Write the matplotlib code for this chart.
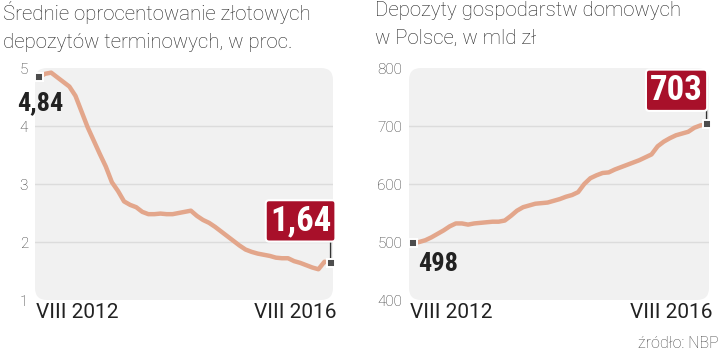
import numpy as np
import matplotlib
matplotlib.use("Agg")
import matplotlib.pyplot as plt
from matplotlib.patches import FancyBboxPatch

# miesiace VIII 2012 .. VIII 2016
months = np.arange(49)
x_labels = ["VIII 2012", "VIII 2016"]

# srednie oprocentowanie depozytow terminowych (%)
rate = [4.84, 4.90, 4.92, 4.84, 4.76, 4.68, 4.52, 4.25, 3.98, 3.75,
        3.52, 3.30, 3.03, 2.88, 2.70, 2.64, 2.60, 2.52, 2.48, 2.48,
        2.49, 2.48, 2.48, 2.50, 2.52, 2.54, 2.45, 2.38, 2.33, 2.26,
        2.18, 2.10, 2.02, 1.94, 1.87, 1.83, 1.80, 1.78, 1.76, 1.73,
        1.72, 1.72, 1.67, 1.64, 1.60, 1.56, 1.53, 1.66, 1.64]

# depozyty gospodarstw domowych (mld zl)
deposits = [498, 500, 503, 508, 514, 520, 527, 532, 532, 530,
            532, 533, 534, 535, 535, 537, 545, 554, 560, 563,
            566, 567, 568, 571, 574, 578, 581, 586, 600, 610,
            615, 619, 620, 625, 629, 633, 637, 641, 646, 651,
            665, 673, 679, 684, 687, 690, 697, 701, 703]

titles = ["Średnie oprocentowanie złotowych\ndepozytów terminowych, w proc.",
          "Depozyty gospodarstw domowych\nw Polsce, w mld zł"]

LINE = "#e3a68b"
RED = "#a8102a"
BG = "#f1f1f1"
GRID = "#dcdcdc"
NUM_FONT = ["Roboto Condensed", "Liberation Sans Narrow", "DejaVu Sans"]
TXT_FONT = ["Roboto", "DejaVu Sans"]

fig = plt.figure(figsize=(7.2, 3.52), dpi=100)

def panel(rect, values, ylim, yticks, grid, first_lbl, last_lbl, last_off, first_off):
    ax = fig.add_axes(rect)
    ax.set_xlim(-0.66, 48.4)
    ax.set_ylim(*ylim)
    ax.patch.set_visible(False)
    for s in ax.spines.values():
        s.set_visible(False)
    w_px = rect[2] * 720
    h_px = rect[3] * 352
    box = FancyBboxPatch((0, 0), 1, 1, transform=ax.transAxes,
                         boxstyle="round,pad=0,rounding_size=%f" % (12 / w_px),
                         mutation_aspect=w_px / h_px,
                         fc=BG, ec="none", zorder=0)
    ax.add_patch(box)
    for g in grid:
        ax.axhline(g, color=GRID, lw=1, zorder=1)
    ax.plot(months, values, color=LINE, lw=3.2, solid_capstyle="round",
            solid_joinstyle="round", zorder=3)
    ax.set_xticks([])
    ax.set_yticks(yticks)
    ax.set_yticklabels([str(t) for t in yticks], family=TXT_FONT,
                       fontsize=11, color="#333333", fontweight="light")
    ax.tick_params(axis="y", length=0, pad=5)
    ax.text(0.003, -0.012, x_labels[0], transform=ax.transAxes, ha="left",
            va="top", fontsize=15, family=TXT_FONT, color="#222222")
    ax.text(1.012, -0.012, x_labels[1], transform=ax.transAxes, ha="right",
            va="top", fontsize=15, family=TXT_FONT, color="#222222")
    for i in (0, len(values) - 1):
        ax.plot(months[i], values[i], marker="s", ms=5.5, mfc="#4d4d4d",
                mec="white", mew=1.4, zorder=5, clip_on=False)
    # etykieta pierwszej wartosci
    ax.annotate(first_lbl, (months[0], values[0]), xytext=first_off,
                textcoords="offset pixels", ha="left", va="center",
                fontsize=19, fontweight="bold", family=NUM_FONT,
                color="#222222", zorder=6)
    # pionowa kreska od punktu do ramki
    ax.annotate("", (months[-1], values[-1]), xytext=(0, last_off[1] - 18),
                textcoords="offset pixels",
                arrowprops=dict(arrowstyle="-", color="#333333", lw=1,
                                shrinkA=0, shrinkB=3), zorder=4)
    # etykieta ostatniej wartosci w czerwonej ramce
    ax.annotate(last_lbl, (months[-1], values[-1]), xytext=last_off,
                textcoords="offset pixels", ha="center", va="center",
                fontsize=25, fontweight="bold", family=NUM_FONT,
                color="white", zorder=6,
                bbox=dict(boxstyle="round,pad=0.12,rounding_size=0.1",
                          fc=RED, ec="white", lw=1.5))
    return ax

panel([35 / 720, 52 / 352, 298 / 720, 232 / 352], rate, (1, 5),
      [1, 2, 3, 4, 5], [2, 3, 4], "4,84", "1,64", (-30, 42), (-22, -26))
panel([409 / 720, 52 / 352, 300 / 720, 232 / 352], deposits, (400, 800),
      [400, 500, 600, 700, 800], [500, 600, 700], "498", "703",
      (-30, 34), (5, -21))

fig.text(3 / 720, 1 - 1 / 352, titles[0], ha="left", va="top", fontsize=14.7,
         family=TXT_FONT, fontweight="light", color="#222222", linespacing=1.6)
fig.text(375 / 720, 1 - 1 / 352, titles[1], ha="left", va="top", fontsize=14.7,
         family=TXT_FONT, fontweight="light", color="#222222", linespacing=1.6)
fig.text(719 / 720, 9 / 352, "źródło: NBP", ha="right", va="center",
         fontsize=11.5, family=TXT_FONT, fontweight="light", color="#444444")

fig.savefig("out.png", dpi=100)
